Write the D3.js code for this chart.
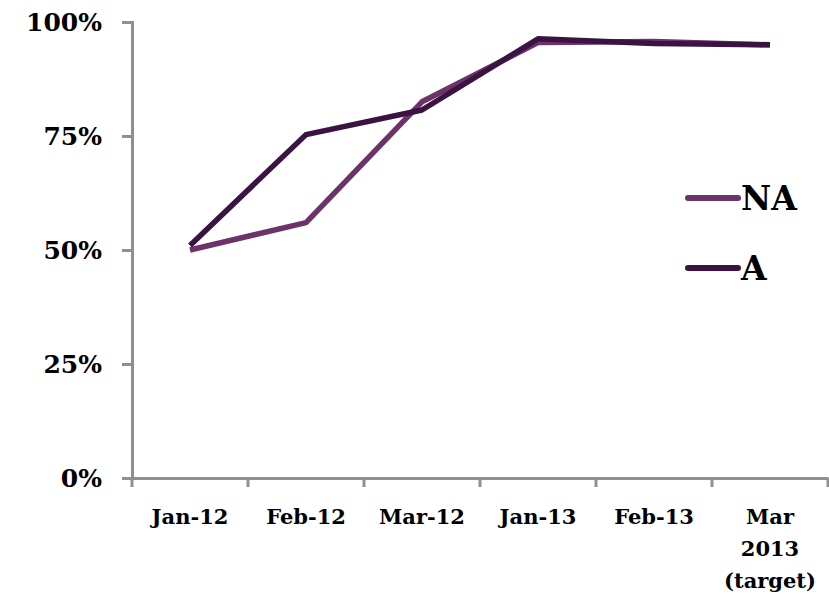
<!DOCTYPE html>
<html>
<head>
<meta charset="utf-8">
<script src="https://cdn.jsdelivr.net/npm/d3@7"></script>
<style>
  body { margin: 0; background: #fff; }
  text { font-family: "DejaVu Serif", serif; font-weight: bold; fill: #000; }
</style>
</head>
<body>
<div id="main"></div>
<script>
const categories = ['Jan-12', 'Feb-12', 'Mar-12', 'Jan-13', 'Feb-13', 'Mar\n2013\n(target)']
const naValues = [0.50, 0.56, 0.825, 0.955, 0.957, 0.95]
const aValues = [0.51, 0.753, 0.807, 0.963, 0.953, 0.95]
const yTicks = [0, 0.25, 0.5, 0.75, 1]
const seriesNames = ['NA', 'A']
const seriesColors = ['#6b3368', '#3a1343']

const width = 829
const height = 600
const margin = {left: 132, right: 1, top: 22, bottom: 122}

const svg = d3.select('#main')
              .append('svg')
              .attr('width', width)
              .attr('height', height)

const x = d3.scaleBand()
            .domain(categories)
            .range([margin.left, width - margin.right])

const y = d3.scaleLinear()
            .domain([0, 1])
            .range([height - margin.bottom, margin.top])

// axes
const yAxis = svg.append('g')
                 .attr('transform', 'translate(' + margin.left + ',0)')
                 .call(d3.axisLeft(y).tickValues(yTicks).tickFormat(d3.format('.0%')).tickSize(10).tickPadding(20))
yAxis.selectAll('text').style('font-size', '25px')

const xAxis = svg.append('g')
                 .attr('transform', 'translate(0,' + y(0) + ')')
                 .call(d3.axisBottom(x).tickSize(0).tickFormat(''))

// tick marks between categories
xAxis.selectAll('.bound')
     .data(categories.concat(['end']))
     .enter()
     .append('line')
     .attr('class', 'bound')
     .attr('x1', (d, i) => i < categories.length ? x(d) : x.range()[1])
     .attr('x2', (d, i) => i < categories.length ? x(d) : x.range()[1])
     .attr('y1', 0)
     .attr('y2', 9)

svg.selectAll('.domain, .tick line, .bound')
   .attr('stroke', '#8f8f8f')
   .attr('stroke-width', 3)

svg.selectAll('.xlab')
   .data(categories)
   .enter()
   .append('text')
   .attr('class', 'xlab')
   .attr('text-anchor', 'middle')
   .style('font-size', '21px')
   .selectAll('tspan')
   .data((d) => d.split('\n').map((t) => ({t: t, c: d})))
   .enter()
   .append('tspan')
   .attr('x', (d) => x(d.c) + x.bandwidth() / 2)
   .attr('y', (d, i) => y(0) + 46 + 32 * i)
   .text((d) => d.t)

// lines
const line = d3.line()
               .x((d, i) => x(categories[i]) + x.bandwidth() / 2)
               .y((d) => y(d))

const series = [naValues, aValues]
series.forEach((vals, k) => {
    svg.append('path')
       .datum(vals)
       .attr('fill', 'none')
       .attr('stroke', seriesColors[k])
       .attr('stroke-width', 5.5)
       .attr('stroke-linejoin', 'round')
       .attr('d', line)
})

// legend
const legend = svg.append('g').attr('id', 'legend')
seriesNames.forEach((name, k) => {
    const ly = 198 + 70 * k
    legend.append('line')
          .attr('x1', 688).attr('x2', 738)
          .attr('y1', ly).attr('y2', ly)
          .attr('stroke', seriesColors[k])
          .attr('stroke-width', 6)
          .attr('stroke-linecap', 'round')
    legend.append('text')
          .attr('x', 741)
          .attr('y', ly)
          .attr('dy', '0.36em')
          .style('font-size', '33px')
          .text(name)
})
</script>
</body>
</html>
